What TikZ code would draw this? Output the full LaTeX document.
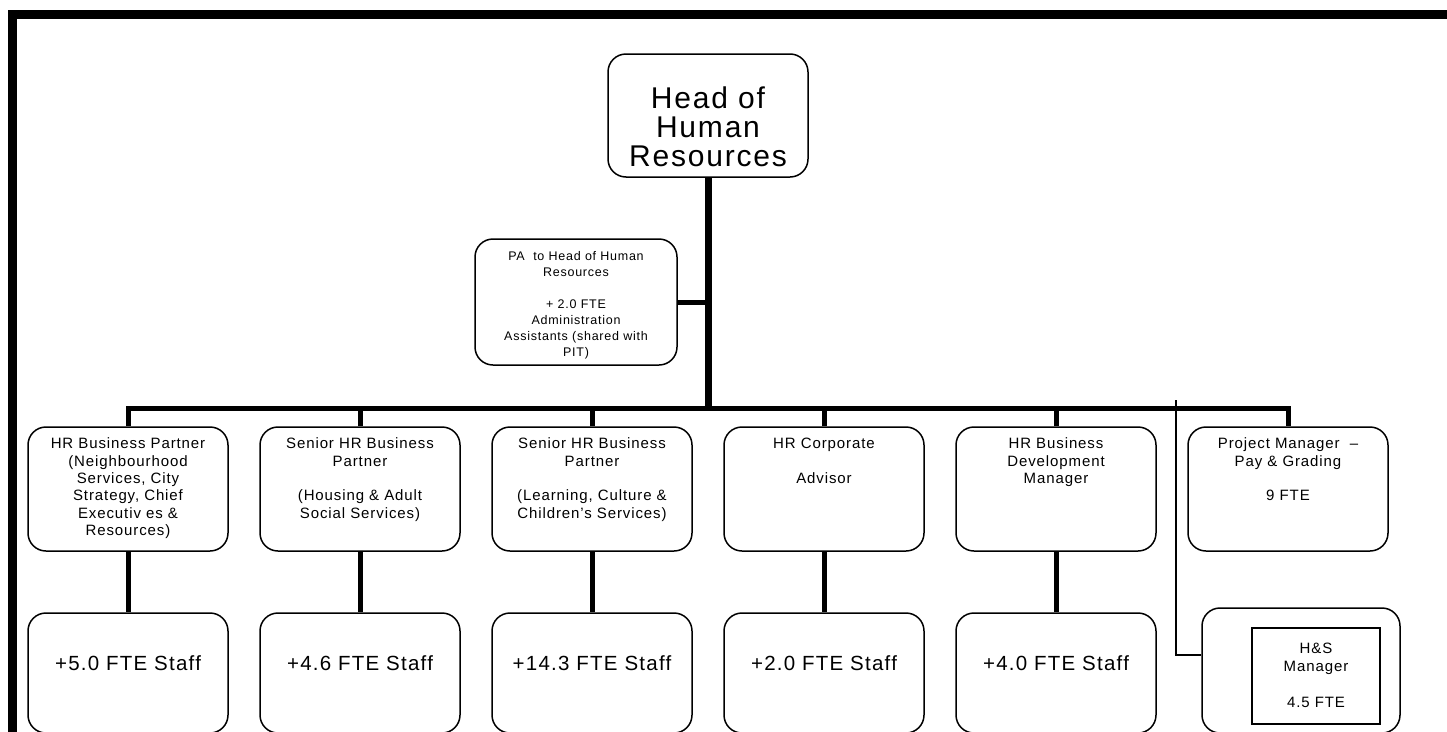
\documentclass[tikz,border=0pt]{standalone}
\usepackage{fontspec}
\setmainfont{Liberation Sans}
\newfontfamily\orgfont[LetterSpace=6]{Liberation Sans}
\newcommand\blankrow{\\[\baselineskip]}
\newcommand\postext[3]{\parbox[t][#1][t]{#2}{\centering #3}}
\begin{document}
\begin{tikzpicture}[x=1pt,y=-1pt,
  post/.style={draw,line width=1.5pt,rounded corners=18pt,inner sep=0pt,
    minimum width=200pt,minimum height=124pt,font=\orgfont},
  link/.style={line width=5pt},
  trunk/.style={line width=7pt}]
\useasboundingbox (0,0) rectangle (1447,731);
\clip (0,0) rectangle (1447,731);
% frame
\draw[line width=9pt] (12.5,745) -- (12.5,14.5) -- (1460,14.5);
% top of the chart
\node[post,minimum height=123pt] (head) at (708,115.5)
  {\fontsize{30}{29}\selectfont\postext{58pt}{190pt}{Head of\\Human\\Resources}};
\node[post,minimum width=202pt,minimum height=126pt] (pa) at (576,302)
  {\fontsize{12.5}{16}\selectfont\postext{101pt}{195pt}{PA\ \ to Head of Human\\Resources\blankrow
   + 2.0 FTE\\Administration\\Assistants (shared with\\PIT)}};
% first row
\foreach \i/\txt in {
  1/{HR Business Partner\\(Neighbourhood\\Services, City\\Strategy, Chief\\Executiv es \&\\Resources)},
  2/{Senior HR Business\\Partner\blankrow (Housing \& Adult\\Social Services)},
  3/{Senior HR Business\\Partner\blankrow (Learning, Culture \&\\Children’s Services)},
  4/{HR Corporate\blankrow Advisor},
  5/{HR Business\\Development\\Manager},
  6/{Project Manager\ \ –\\Pay \& Grading\blankrow 9 FTE}}
  \node[post] (b\i) at ({128+232*(\i-1)},489)
    {\fontsize{15}{17.3}\selectfont\postext{102pt}{190pt}{\txt}};
% staff row
\foreach \i/\n in {1/5.0,2/4.6,3/14.3,4/2.0,5/4.0}
  \node[post,minimum height=120pt] (s\i) at ({128+232*(\i-1)},673)
    {\fontsize{20.5}{24}\selectfont\postext{34.6pt}{190pt}{+\n{} FTE Staff}};
\node[post,minimum width=198pt,minimum height=125pt] (hs) at (1301,670.5) {};
\node[draw,line width=2pt,inner sep=0pt,minimum width=128pt,minimum height=96pt,font=\orgfont]
  (hsmgr) at (1316,676)
  {\fontsize{15}{18}\selectfont\postext{66.8pt}{120pt}{H\&S\\Manager\blankrow 4.5 FTE}};
% connectors
\coordinate (bus) at (708,408);
\coordinate (tap) at (1176,400);
\draw[trunk] (head.south) -- (bus);
\draw[link] (pa.east) -- (pa.east -| head.south);
\draw[link] (b1.north) -- (b1.north |- bus) -- (b6.north |- bus) -- (b6.north);
\foreach \i in {2,...,5} \draw[link] (b\i.north) -- (b\i.north |- bus);
\foreach \i in {1,...,5} \draw[link] (b\i.south) -- (s\i.north);
\draw[line width=1.5pt] (tap) |- ([yshift=15.5pt]hs.west);
\end{tikzpicture}
\end{document}
